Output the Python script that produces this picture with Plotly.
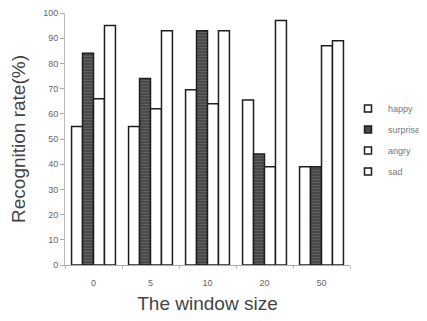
import plotly.graph_objects as go

categories = ["0", "5", "10", "20", "50"]
happy = [55, 55, 69.5, 65.5, 39]
surprise = [84, 74, 93, 44, 39]
angry = [66, 62, 64, 39, 87]
sad = [95, 93, 93, 97, 89]
y_ticks = [0, 10, 20, 30, 40, 50, 60, 70, 80, 90, 100]

series = [
    ("happy", happy, "white", None),
    ("surprise", surprise, "#4a4a4a", dict(shape="-", fgcolor="#7a7a7a", size=3, solidity=0.3)),
    ("angry", angry, "white", None),
    ("sad", sad, "white", None),
]

fig = go.Figure()
for name, vals, color, pat in series:
    marker = dict(color=color, line=dict(color="#1e1e1e", width=1.5))
    if pat:
        marker["pattern"] = pat
    fig.add_trace(go.Bar(x=categories, y=vals, name=name, marker=marker,
                         showlegend=False, legendgroup=name))
# legend entries with small square symbols
for name, vals, color, pat in series:
    fig.add_trace(go.Scatter(x=[None], y=[None], mode="markers", name=name,
                             legendgroup=name,
                             marker=dict(symbol="square", size=7, color=color,
                                         line=dict(color="#1e1e1e", width=1.5))))

# page body has an 8px default margin; size the figure to fit the window
fig.update_layout(
    width=419, height=313,
    margin=dict(l=57, r=77, t=5, b=56, autoexpand=False),
    paper_bgcolor="white", plot_bgcolor="white",
    barmode="group", bargap=0.23, bargroupgap=0,
    font=dict(family="Liberation Sans, Arial, sans-serif", color="#555"),
    showlegend=True,
    legend=dict(x=0.993, y=0.679, xanchor="left", yanchor="top",
                font=dict(size=9, color="#777"), itemwidth=30,
                tracegroupgap=2, bgcolor="rgba(0,0,0,0)"),
    xaxis=dict(type="category", range=[-0.5, 4.5],
               showline=True, linecolor="#aaa", linewidth=1,
               ticks="outside", tickson="boundaries", ticklen=3, tickcolor="#bbb",
               ticklabelstandoff=9,
               tickfont=dict(size=9, color="#666"),
               title=dict(text="The window size", font=dict(size=19, color="#444"), standoff=9)),
    yaxis=dict(range=[0, 100], tickvals=y_ticks, ticktext=[str(v) for v in y_ticks],
               showline=True, linecolor="#bbb", linewidth=1, showgrid=False, zeroline=False,
               ticks="outside", ticklen=4, tickcolor="#aaa",
               tickfont=dict(size=9, color="#666"),
               title=dict(text="Recognition rate(%)", font=dict(size=19, color="#444"), standoff=13)),
)

fig.write_html("out.html")
